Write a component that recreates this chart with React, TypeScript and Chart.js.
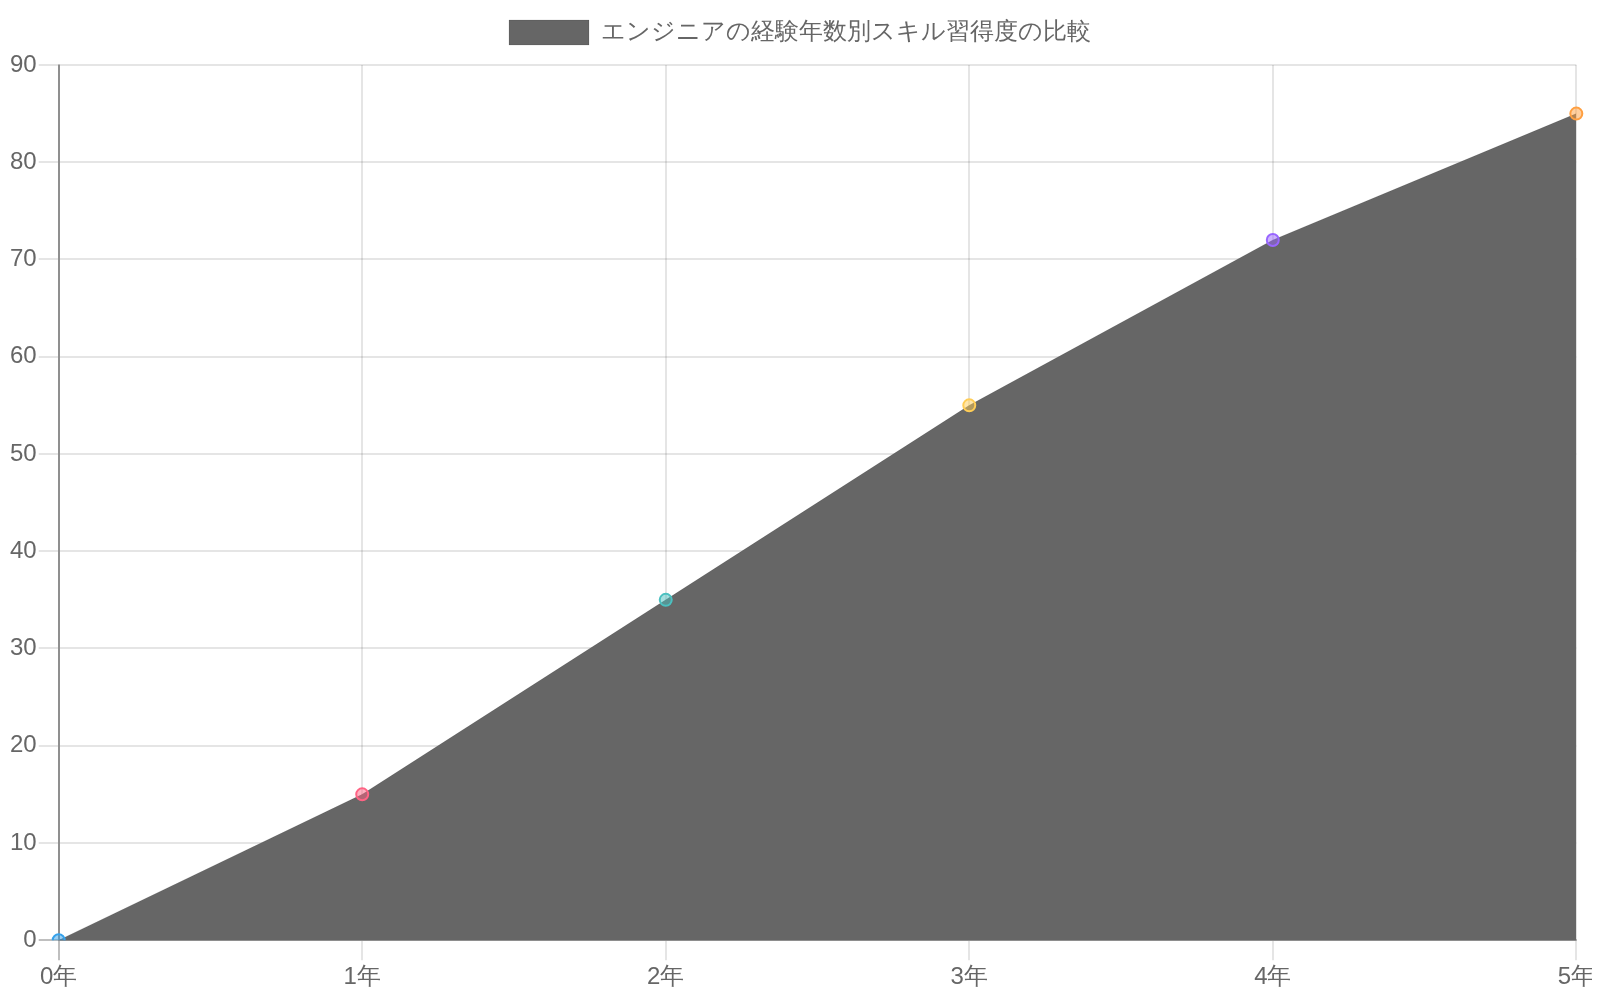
import { useEffect, useRef } from 'react';
import { Chart, registerables } from 'chart.js';

Chart.register(...registerables);

const years = ['0年', '1年', '2年', '3年', '4年', '5年'];
const skillLevel = [0, 15, 35, 55, 72, 85];
const pointFills = [
    'rgba(54, 162, 235, 0.5)',
    'rgba(255, 99, 132, 0.5)',
    'rgba(75, 192, 192, 0.5)',
    'rgba(255, 205, 86, 0.5)',
    'rgba(153, 102, 255, 0.5)',
    'rgba(255, 159, 64, 0.5)',
];
const pointBorders = [
    'rgb(54, 162, 235)',
    'rgb(255, 99, 132)',
    'rgb(75, 192, 192)',
    'rgb(255, 205, 86)',
    'rgb(153, 102, 255)',
    'rgb(255, 159, 64)',
];

// first grid line (value 0 / first category) is drawn a bit darker
const gridColor = (c: any) => (c.index === 0 ? 'rgba(0,0,0,0.25)' : 'rgba(0,0,0,0.1)');

// a bit more room under the legend
const legendSpace = {
    id: 'legendSpace',
    afterInit(chart: any) {
        const lg = chart.legend;
        if (!lg) return;
        const fit = lg.fit.bind(lg);
        lg.fit = () => {
            fit();
            lg.height += 10;
        };
    },
};

const App = () => {
    const chartRef = useRef<Chart | null>(null);
    const canvasRef = useRef<HTMLCanvasElement | null>(null);

    useEffect(() => {
        if (!canvasRef.current) return;
        if (chartRef.current) chartRef.current.destroy();

        const ctx = canvasRef.current.getContext('2d');
        if (!ctx) return;

        Chart.defaults.font.size = 24;
        Chart.defaults.font.family = "'Helvetica Neue', Helvetica, Arial, sans-serif";
        Chart.defaults.color = '#666';

        chartRef.current = new Chart(ctx, {
            type: 'line',
            data: {
                labels: years,
                datasets: [
                    {
                        label: 'エンジニアの経験年数別スキル習得度の比較',
                        data: skillLevel,
                        backgroundColor: '#666',
                        borderColor: 'rgba(0,0,0,0.1)',
                        borderWidth: 1,
                        fill: true,
                        tension: 0,
                        pointRadius: 6,
                        pointBorderWidth: 2,
                        pointBackgroundColor: pointFills,
                        pointBorderColor: pointBorders,
                    },
                ],
            },
            options: {
                animation: false,
                responsive: true,
                maintainAspectRatio: false,
                scales: {
                    x: {
                        grid: { color: gridColor, lineWidth: 2, tickLength: 20 },
                        border: { color: 'rgba(0,0,0,0.25)', width: 2 },
                        ticks: { padding: 3 },
                        afterFit: (s: any) => {
                            s.paddingRight = Math.max(0, s.paddingRight - 6);
                        },
                    },
                    y: {
                        min: 0,
                        max: 90,
                        ticks: { stepSize: 10, padding: 2 },
                        grid: { color: gridColor, lineWidth: 2, tickLength: 20 },
                        border: { color: 'rgba(0,0,0,0.25)', width: 2 },
                    },
                },
                plugins: {
                    legend: {
                        display: true,
                        labels: { boxWidth: 80, boxHeight: 25, padding: 12 },
                    },
                    tooltip: { enabled: true },
                },
            },
            plugins: [legendSpace],
        });

        return () => {
            if (chartRef.current) chartRef.current.destroy();
        };
    }, []);

    return (
        <div style={{ width: '100%', height: '987px', marginBottom: '-3px' }}>
            <canvas ref={canvasRef}></canvas>
        </div>
    );
};

export default App;
